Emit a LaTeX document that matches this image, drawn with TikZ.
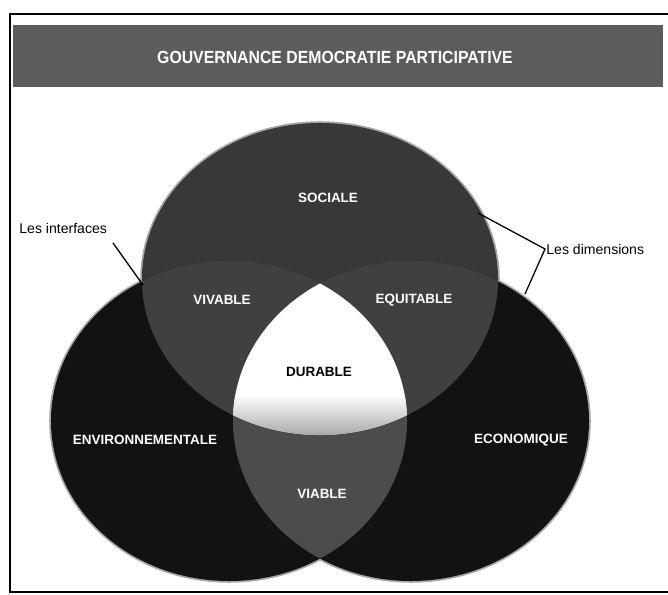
\documentclass[tikz,border=0pt]{standalone}
\usepackage{fontspec}
\setmainfont{Liberation Sans}
\definecolor{bandgray}{gray}{0.36}
\definecolor{topgray}{gray}{0.22}
\definecolor{sidedark}{gray}{0.07}
\definecolor{pairgray}{gray}{0.25}
\definecolor{viablegray}{gray}{0.30}
\tikzset{
  frameline/.style={line width=1.6pt, black},
  halo/.style={draw=black!35, line width=3pt},
  dimlabel/.style={font=\fontsize{12}{14}\selectfont, text=black, inner sep=1pt},
  zonelabel/.style={font=\bfseries\fontsize{11.5}{13}\selectfont, text=white, inner sep=1pt},
  leader/.style={line width=1.1pt, black},
}
\begin{document}
\begin{tikzpicture}[x=0.03cm,y=-0.03cm]
\useasboundingbox (0,0) rectangle (668,595);
% frame
\draw[frameline] (668,14) -- (10,14) -- (10,592) -- (668,592);
% header band
\fill[bandgray] (13,25) rectangle (663,87);
\node[font=\bfseries\fontsize{15}{17}\selectfont, text=white] (head) at (335,57)
  {\scalebox{0.9}[1]{GOUVERNANCE DEMOCRATIE PARTICIPATIVE}};
% circles
\def\topC{(320,279) ellipse [x radius=5.34cm, y radius=4.68cm]}
\def\leftC{(229,421) ellipse [x radius=5.34cm, y radius=4.8cm]}
\def\rightC{(411,421) ellipse [x radius=5.34cm, y radius=4.8cm]}
\path[halo] \leftC;
\path[halo] \rightC;
\path[halo] \topC;
\fill[sidedark] \leftC;
\fill[sidedark] \rightC;
\begin{scope}
  \clip \leftC;
  \fill[viablegray] \rightC;
\end{scope}
\fill[topgray] \topC;
\begin{scope}
  \clip \topC;
  \fill[pairgray] \leftC;
  \fill[pairgray] \rightC;
\end{scope}
\begin{scope}
  \clip \leftC;
  \clip \rightC;
  \clip \topC;
  \fill[white] (140,278) rectangle (500,437);
  \shade[top color=white, bottom color=black!35] (140,395) rectangle (500,437);
\end{scope}
% zone labels
\node[zonelabel] (sociale) at (328,198) {SOCIALE};
\node[zonelabel] (vivable) at (222,300) {VIVABLE};
\node[zonelabel] (equitable) at (414,300) {EQUITABLE};
\node[zonelabel, text=black] (durable) at (319,372) {DURABLE};
\node[zonelabel] (envir) at (145,440) {ENVIRONNEMENTALE};
\node[zonelabel] (econ) at (521,440) {ECONOMIQUE};
\node[zonelabel] (viable) at (322,494) {VIABLE};
% side labels and leaders
\node[dimlabel, anchor=west] (interf) at (18,228) {Les interfaces};
\node[dimlabel, anchor=west] (dims) at (545,249) {Les dimensions};
\coordinate (i1) at (113,243);
\coordinate (i2) at (143,285);
\coordinate (d1) at (478,213);
\coordinate (d2) at (525,294);
\draw[leader] (i1) -- (i2);
\draw[leader] (d1) -- (dims.west) -- (d2);
\end{tikzpicture}
\end{document}
